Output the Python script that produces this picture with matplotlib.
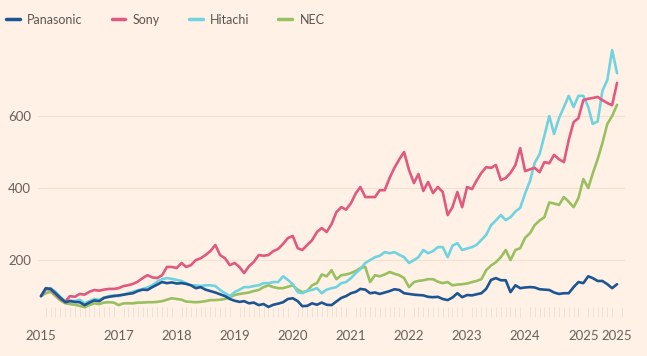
import pandas as pd
import matplotlib
matplotlib.use("Agg")
import matplotlib.pyplot as plt
import matplotlib.dates as mdates

# monthly index values (Sep 2015 = 100)
dates = pd.date_range("2015-09-01", periods=120, freq="MS")

panasonic = [100, 122, 120, 108, 95, 83, 86, 84, 83, 75,
             82, 88, 86, 95, 98, 100, 102, 104, 106, 108,
             114, 118, 117, 125, 132, 139, 136, 138, 135, 136,
             134, 130, 122, 125, 118, 114, 110, 105, 100, 92,
             87, 84, 86, 80, 82, 75, 78, 70, 76, 79,
             83, 92, 94, 86, 72, 73, 80, 76, 82, 76,
             75, 85, 95, 100, 108, 112, 120, 118, 108, 110,
             106, 110, 114, 119, 117, 108, 106, 104, 103, 102,
             98, 97, 98, 92, 89, 96, 108, 97, 103, 102,
             105, 108, 120, 145, 150, 144, 144, 111, 130, 122,
             124, 125, 124, 119, 118, 117, 110, 106, 108, 108,
             125, 139, 136, 155, 150, 142, 142, 133, 122, 133]

sony = [100, 120, 118, 105, 92, 85, 100, 98, 106, 104,
        112, 117, 115, 118, 120, 120, 122, 128, 130, 134,
        140, 150, 158, 152, 150, 158, 181, 181, 178, 192,
        181, 186, 200, 205, 214, 225, 242, 214, 205, 186,
        192, 180, 164, 183, 195, 214, 212, 214, 225, 231,
        245, 261, 267, 233, 228, 242, 255, 278, 289, 278,
        300, 333, 347, 340, 358, 386, 403, 375, 375, 375,
        394, 394, 428, 456, 480, 500, 450, 414, 439, 392,
        417, 386, 403, 389, 325, 347, 389, 347, 403, 397,
        420, 442, 458, 456, 464, 422, 428, 442, 464, 511,
        447, 452, 456, 444, 472, 469, 492, 480, 472, 533,
        583, 594, 644, 648, 650, 653, 644, 636, 630, 692]

hitachi = [100, 118, 122, 112, 98, 85, 88, 86, 90, 80,
           86, 92, 90, 96, 100, 102, 100, 104, 108, 112,
           116, 120, 124, 130, 140, 147, 150, 148, 145, 142,
           136, 130, 130, 128, 130, 130, 128, 117, 108, 100,
           111, 118, 125, 125, 128, 130, 136, 136, 139, 139,
           155, 145, 133, 111, 108, 115, 117, 122, 108, 118,
           122, 125, 136, 139, 150, 164, 175, 192, 200, 208,
           212, 222, 219, 222, 215, 208, 192, 200, 208, 228,
           219, 225, 236, 236, 208, 240, 247, 228, 232, 236,
           242, 256, 270, 297, 310, 325, 311, 319, 335, 345,
           385, 420, 470, 494, 545, 600, 550, 594, 625, 656,
           625, 656, 656, 625, 578, 585, 670, 700, 783, 719]

nec = [100, 108, 112, 100, 88, 80, 78, 76, 73, 69,
       75, 80, 78, 82, 83, 82, 75, 80, 80, 80,
       82, 82, 83, 83, 84, 86, 90, 94, 92, 90,
       85, 84, 83, 84, 86, 89, 89, 90, 92, 97,
       103, 106, 108, 110, 114, 117, 125, 130, 125, 122,
       122, 126, 130, 118, 111, 114, 130, 136, 160, 155,
       172, 147, 158, 160, 164, 170, 178, 181, 139, 158,
       155, 160, 167, 162, 158, 150, 125, 139, 142, 144,
       147, 147, 140, 136, 139, 130, 132, 133, 135, 139,
       142, 147, 172, 185, 194, 208, 228, 200, 228, 233,
       262, 275, 297, 310, 319, 360, 357, 353, 375, 362,
       347, 372, 425, 400, 440, 480, 525, 578, 600, 631]

names = ["Panasonic", "Sony", "Hitachi", "NEC"]
series = [panasonic, sony, hitachi, nec]
colors = ["#1d5592", "#e0597f", "#70d3e0", "#98c060"]
zorders = [5, 4, 3, 2]

yticks = [200, 400, 600]

bg = "#fff1e5"
plt.rcParams["font.family"] = ["Lato", "DejaVu Sans"]

fig = plt.figure(figsize=(6.47, 3.56), dpi=100, facecolor=bg)
ax = fig.add_axes([38 / 647, 1 - 317 / 356, 587 / 647, 277 / 356])
ax.set_facecolor(bg)

for name, vals, c, z in zip(names, series, colors, zorders):
    ax.plot(dates, vals, color=c, lw=1.9, label=name, zorder=z,
            solid_joinstyle="round", solid_capstyle="round")

ax.set_ylim(42, 811)
ax.set_xlim(dates[0] - pd.Timedelta(days=19), dates[-1] + pd.Timedelta(days=50))

ax.set_yticks(yticks)
ax.set_yticklabels([str(v) for v in yticks])
ax.grid(axis="y", color="#f2e2d4", lw=0.9)
ax.tick_params(axis="y", length=0, pad=5, labelsize=9.5, labelcolor="#66605c")

# x labels: first date, each January from 2017, and last date
xt = [dates[0]] + [pd.Timestamp(f"{y}-01-01") for y in range(2017, 2026)] + [dates[-1]]
ax.set_xticks(xt)
ax.set_xticklabels([str(d.year) for d in xt])
ax.tick_params(axis="x", length=0, pad=9, labelsize=9.5, labelcolor="#66605c")
ax.xaxis.set_minor_locator(mdates.MonthLocator())
ax.tick_params(axis="x", which="minor", direction="in", length=7, width=0.6,
               color="#ecdfd3")

for s in ax.spines.values():
    s.set_visible(False)

fig.legend(loc="upper left", bbox_to_anchor=(-0.006, 0.99), ncol=4, frameon=False,
           handlelength=1.1, handletextpad=0.6, columnspacing=2.3,
           fontsize=9, labelcolor="#5a5450", borderaxespad=0.4)
for line in fig.legends[0].get_lines():
    line.set_linewidth(2.5)

fig.savefig("out.png", dpi=100, facecolor=bg)
